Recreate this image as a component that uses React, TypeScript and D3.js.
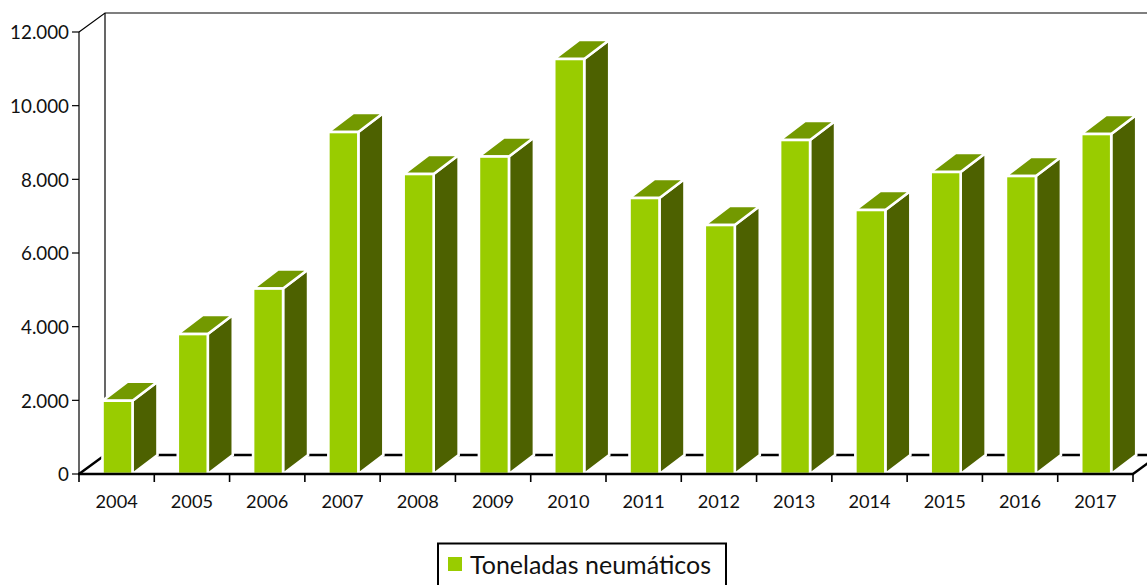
import React from "react";
import * as d3 from "d3";

const years = ["2004","2005","2006","2007","2008","2009","2010","2011","2012","2013","2014","2015","2016","2017"];
const tons = [1990,3800,5035,9285,8145,8620,11268,7494,6760,9068,7168,8200,8090,9231];
const yTicks = [0,2000,4000,6000,8000,10000,12000];
const seriesName = "Toneladas neumáticos";

const W = 1147, H = 585;
const FONT = "Lato, 'Open Sans', sans-serif";
const x = d3.scaleBand<string>().domain(years).range([79, 1133]).paddingInner(0).paddingOuter(0);
const y = d3.scaleLinear().domain([0, 12000]).range([474, 32]);
const dx = 26, dy = -19;
const fmt = (v: number) => d3.format(",")(v).replace(/,/g, ".");

export default function App() {
  const bw = 30;
  const off = 23.5;
  return (
    <svg width={W} height={H} style={{ position: "absolute", left: 0, top: 0, display: "block" }} fontFamily={FONT}>
      <rect width={W} height={H} fill="#fff" />
      {/* back walls and floor */}
      <path d={`M${x.range()[0]},${y(12000)}L${x.range()[0] + dx},${y(12000) + dy}H${W}`} fill="none" stroke="#000" strokeWidth={1.2} />
      <path d={`M${x.range()[0] + dx},${y(12000) + dy}V${y(0) + dy}`} fill="none" stroke="#000" strokeWidth={1.2} />
      <path d={`M${x.range()[0]},${y(0)}L${x.range()[0] + dx},${y(0) + dy}H${W}`} fill="none" stroke="#000" strokeWidth={2.4} />
      <path d={`M${x.range()[1]},${y(0)}L${x.range()[1] + dx},${y(0) + dy}`} fill="none" stroke="#000" strokeWidth={2.4} />
      {/* bars */}
      {years.map((yr, i) => {
        const x0 = (x(yr) as number) + off;
        const x1 = x0 + bw;
        const yt = y(tons[i]);
        const yb = y(0);
        const d = 25, e = -19;
        return (
          <g key={yr} stroke="#fff" strokeWidth={2.6} strokeLinejoin="miter">
            <path d={`M${x1},${yb}L${x1 + d},${yb + e}V${yt + e}L${x1},${yt}Z`} fill="#4d6100" />
            <path d={`M${x0},${yt}L${x0 + d},${yt + e}H${x1 + d}L${x1},${yt}Z`} fill="#739900" />
            <rect x={x0} y={yt} width={bw} height={yb - yt} fill="#99cc00" />
          </g>
        );
      })}
      {/* y axis */}
      <line x1={79} x2={79} y1={y(12000)} y2={y(0)} stroke="#000" strokeWidth={1.2} />
      {yTicks.map(t => (
        <g key={t}>
          <line x1={72} x2={79} y1={y(t)} y2={y(t)} stroke="#000" strokeWidth={1.2} />
          <text x={69} y={y(t) + 0.8} dy="0.35em" textAnchor="end" fontSize={18.8} fill="#111">{fmt(t)}</text>
        </g>
      ))}
      {/* x axis */}
      <line x1={78} x2={x.range()[1] + 1} y1={y(0)} y2={y(0)} stroke="#000" strokeWidth={2.6} />
      {[...years.map(yr => x(yr) as number), x.range()[1]].map((p, i) => (
        <line key={i} x1={p} x2={p} y1={y(0)} y2={y(0) + 8} stroke="#000" strokeWidth={1.6} />
      ))}
      {years.map(yr => (
        <text key={yr} x={(x(yr) as number) + x.bandwidth() / 2} y={508} textAnchor="middle" fontSize={18.2} fill="#111">{yr}</text>
      ))}
      {/* legend */}
      <rect x={438} y={543.5} width={288} height={50} fill="#fff" stroke="#000" strokeWidth={2} />
      <rect x={448} y={557} width={14} height={14} fill="#99cc00" />
      <text x={470} y={574} fontSize={25} fill="#111">{seriesName}</text>
    </svg>
  );
}
